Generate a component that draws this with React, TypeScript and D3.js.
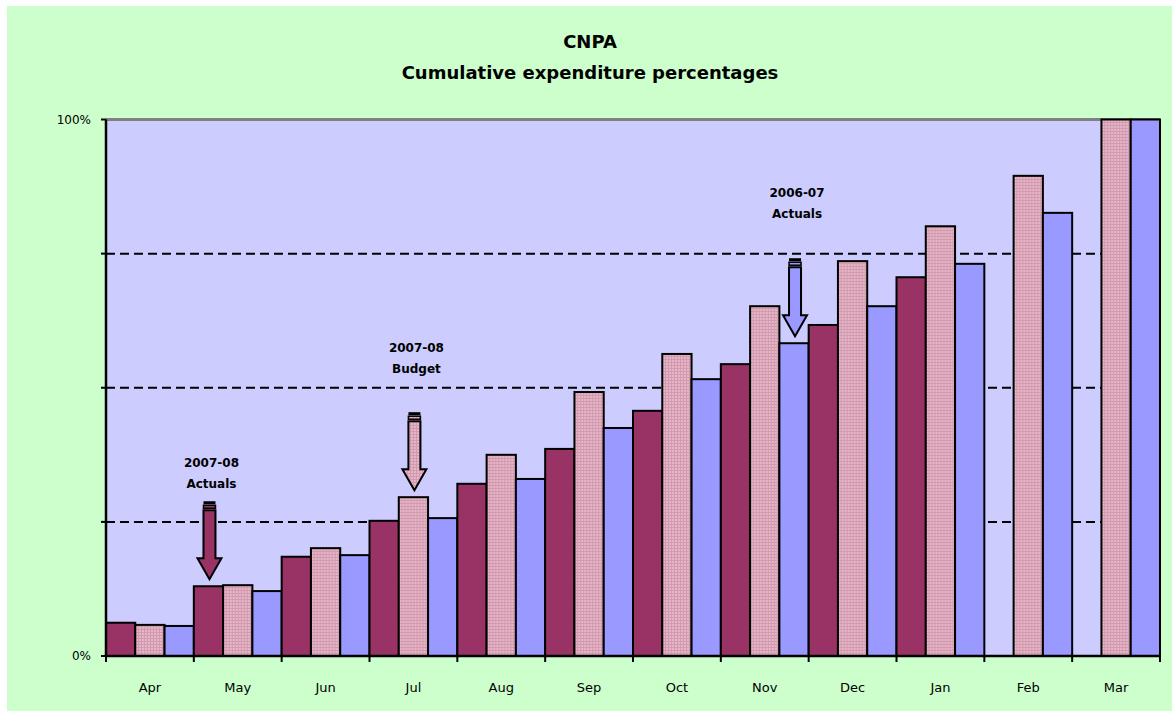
import React from 'react';
import * as d3 from 'd3';

// months of the financial year
const months = ['Apr', 'May', 'Jun', 'Jul', 'Aug', 'Sep', 'Oct', 'Nov', 'Dec', 'Jan', 'Feb', 'Mar'];

// cumulative spend, % of year total
const actuals0708 = [6.2, 13.0, 18.5, 25.2, 32.1, 38.6, 45.7, 54.4, 61.7, 70.6, 0, 0];
const budget0708 = [5.8, 13.2, 20.1, 29.6, 37.5, 49.2, 56.3, 65.2, 73.6, 80.1, 89.5, 100];
const actuals0607 = [5.6, 12.1, 18.8, 25.7, 33.0, 42.5, 51.6, 58.3, 65.2, 73.1, 82.6, 100];

const seriesKeys = ['a0708', 'b0708', 'a0607'];
const yTicks = [0, 25, 50, 75, 100];
const yTickLabels = ['0%', '', '', '', '100%'];

// arrows pointing at a bar, with their two-line label
const notes = [
  { month: 'May', series: 'a0708', lines: ['2007-08', 'Actuals'], gap: 38 },
  { month: 'Jul', series: 'b0708', lines: ['2007-08', 'Budget'], gap: 64 },
  { month: 'Nov', series: 'a0607', lines: ['2006-07', 'Actuals'], gap: 65 },
];

const W = 1172;
const H = 711;
const left = 106, right = 1160, top = 119.5, bottom = 656;
const font = '"Comic Sans MS", "DejaVu Sans", sans-serif';

const fills: Record<string, string> = {
  a0708: '#993366',
  b0708: 'url(#pinkDots)',
  a0607: '#9999FF',
};

const App = () => {
  const x = d3.scaleBand().domain(months).range([left, right]).padding(0);
  const xs = d3.scaleBand().domain(seriesKeys).range([0, x.bandwidth()]).padding(0);
  const y = d3.scaleLinear().domain([0, 100]).range([bottom, top]);

  const rows = months.map((m, i) => ({
    month: m,
    a0708: actuals0708[i],
    b0708: budget0708[i],
    a0607: actuals0607[i],
  }));

  return (
    <svg width={W} height={H} style={{ position: 'absolute', left: 0, top: 0 }}>
      <defs>
        <pattern id="pinkDots" width="3" height="3" patternUnits="userSpaceOnUse">
          <rect width="3" height="3" fill="#D29AAF" />
          <rect x="0" y="0" width="2" height="2" fill="#E6B6C8" />
        </pattern>
      </defs>
      <rect x={0} y={0} width={W} height={H} fill="#ffffff" />
      <rect x={7} y={6} width={W - 7} height={H - 6} fill="#CCFFCC" />

      {/* title */}
      <text x={590} y={48} textAnchor="middle" fontFamily={font} fontWeight="bold" fontSize={18}>CNPA</text>
      <text x={590} y={79} textAnchor="middle" fontFamily={font} fontWeight="bold" fontSize={18}>
        Cumulative expenditure percentages
      </text>

      {/* plot area */}
      <rect x={left} y={top} width={right - left} height={bottom - top} fill="#CCCCFF" />
      <line x1={left} x2={right} y1={top} y2={top} stroke="#808080" strokeWidth={3} />
      <line x1={right} x2={right} y1={top} y2={bottom} stroke="#808080" strokeWidth={2} />
      {yTicks.slice(1, 4).map((t) => (
        <line key={t} x1={left} x2={right} y1={y(t)} y2={y(t)} stroke="#000" strokeWidth={2} strokeDasharray="9,5" />
      ))}

      {/* bars */}
      {rows.map((r) => (
        <g key={r.month} transform={`translate(${x(r.month)},0)`}>
          {seriesKeys.map((k) => {
            const v = (r as any)[k] as number;
            if (!v) return null;
            return (
              <rect
                key={k}
                x={xs(k)}
                y={y(v)}
                width={xs.bandwidth()}
                height={y(0) - y(v)}
                fill={fills[k]}
                stroke="#000"
                strokeWidth={2}
              />
            );
          })}
        </g>
      ))}

      {/* axes */}
      <line x1={left} x2={left} y1={top} y2={bottom} stroke="#000" strokeWidth={2.5} />
      <line x1={left} x2={right} y1={bottom} y2={bottom} stroke="#000" strokeWidth={2.5} />
      {yTicks.map((t, i) => (
        <g key={t}>
          <line x1={left - 5} x2={left} y1={y(t)} y2={y(t)} stroke="#000" strokeWidth={2} />
          {yTickLabels[i] && (
            <text x={left - 15} y={y(t) + 4} textAnchor="end" fontFamily={font} fontSize={12}>
              {yTickLabels[i]}
            </text>
          )}
        </g>
      ))}
      {months.concat(['end']).map((m, i) => {
        const tx = left + i * x.step();
        return <line key={m} x1={tx} x2={tx} y1={bottom} y2={bottom + 6} stroke="#000" strokeWidth={2} />;
      })}
      {months.map((m) => (
        <text key={m} x={(x(m) as number) + x.bandwidth() / 2} y={692} textAnchor="middle" fontFamily={font} fontSize={13}>
          {m}
        </text>
      ))}

      {/* annotations */}
      {notes.map((n) => {
        const i = months.indexOf(n.month);
        const v = (rows[i] as any)[n.series] as number;
        const cx = (x(n.month) as number) + (xs(n.series) as number) + xs.bandwidth() / 2 + 1;
        const tip = y(v) - 7;
        const headTop = tip - 21;
        const topY = tip - 78;
        const hw = 6;
        const fill = fills[n.series];
        return (
          <g key={n.month}>
            <text x={cx + 2} y={topY - n.gap + 4} textAnchor="middle" fontFamily={font} fontWeight="bold" fontSize={12}>{n.lines[0]}</text>
            <text x={cx + 2} y={topY - n.gap + 25} textAnchor="middle" fontFamily={font} fontWeight="bold" fontSize={12}>{n.lines[1]}</text>
            <rect x={cx - hw} y={topY} width={hw * 2} height={3} fill="#000" />
            <rect x={cx - hw} y={topY + 4} width={hw * 2} height={3} fill={fill} stroke="#000" strokeWidth={1.5} />
            <path
              d={`M${cx - hw},${topY + 9} L${cx + hw},${topY + 9} L${cx + hw},${headTop} L${cx + 12},${headTop} L${cx},${tip} L${cx - 12},${headTop} L${cx - hw},${headTop} Z`}
              fill={fill}
              stroke="#000"
              strokeWidth={2}
              strokeLinejoin="miter"
            />
          </g>
        );
      })}
    </svg>
  );
};

export default App;
